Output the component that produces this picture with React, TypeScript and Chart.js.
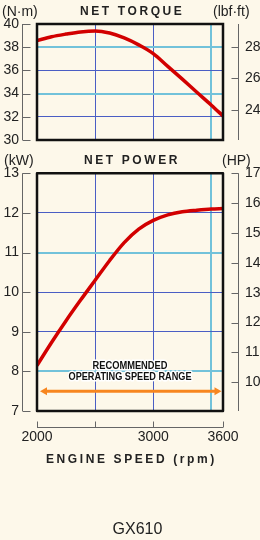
import React, { useEffect, useRef } from "react";
import { Chart, registerables } from "chart.js";
Chart.register(...registerables);

// ---- data ----
const rpm = [2000, 2125, 2250, 2375, 2500, 2625, 2750, 2875, 3000, 3125, 3250, 3375, 3500, 3600];
const torqueNm = [38.57, 38.9, 39.13, 39.32, 39.4, 39.22, 38.8, 38.2, 37.45, 36.35, 35.25, 34.12, 33.0, 32.07];
const powerKw = [8.15, 8.73, 9.28, 9.8, 10.3, 10.8, 11.25, 11.59, 11.81, 11.95, 12.03, 12.07, 12.1, 12.11];

const xGridTicks = [2000, 2500, 3000, 3500, 3600];
const xLabelled = [2000, 3000, 3600];
const xAxisMarks = [2000, 2500, 3000, 3600];
const xLightGrid = [3500];

const torqueTicks = [30, 32, 34, 36, 38, 40];
const torqueLightGrid = [34, 38];
const lbfftTicks = [24, 26, 28];
const lbfftRange = [22.1, 29.45];

const powerTicks = [7, 8, 9, 10, 11, 12, 13];
const powerLightGrid = [8, 11];
const hpTicks = [10, 11, 12, 13, 14, 15, 16, 17];
const hpRange = [9.04, 17];

const rangeRpm = [2000, 3600];
const rangeKw = 7.5;
const rangeText = ["RECOMMENDED", "OPERATING SPEED RANGE"];

// ---- style ----
const BG = "#FDF8EA";
const DARK = "#4A5EC4";
const LIGHT = "#72C2DA";
const RED = "#D20000";
const ORANGE = "#F7861F";
const TEXT = "#222";
const FONT = "'Liberation Sans', Arial, sans-serif";
const CLEAR = "rgba(0,0,0,0)";

const decorPlugin = {
  id: "decor",
  afterDraw(chart: any, _a: any, o: any) {
    const ctx = chart.ctx;
    const ca = chart.chartArea;
    const x = chart.scales.x;
    const y = chart.scales.y;
    const y2 = chart.scales.y2;
    ctx.save();

    if (o.range) {
      const py = y.getPixelForValue(rangeKw);
      const x1 = x.getPixelForValue(rangeRpm[0]) + 3;
      const x2 = x.getPixelForValue(rangeRpm[1]) - 1.5;
      ctx.strokeStyle = ORANGE;
      ctx.fillStyle = ORANGE;
      ctx.lineWidth = 3;
      ctx.beginPath();
      ctx.moveTo(x1 + 4, py);
      ctx.lineTo(x2 - 4, py);
      ctx.stroke();
      ctx.beginPath();
      ctx.moveTo(x1, py);
      ctx.lineTo(x1 + 7, py - 4);
      ctx.lineTo(x1 + 7, py + 4);
      ctx.closePath();
      ctx.fill();
      ctx.beginPath();
      ctx.moveTo(x2, py);
      ctx.lineTo(x2 - 7, py - 4);
      ctx.lineTo(x2 - 7, py + 4);
      ctx.closePath();
      ctx.fill();

      const cx = (ca.left + ca.right) / 2;
      ctx.font = `bold 11px ${FONT}`;
      ctx.textAlign = "center";
      ctx.textBaseline = "middle";
      ctx.lineJoin = "round";
      const rows = [
        { t: rangeText[0], dy: -25, w: 75 },
        { t: rangeText[1], dy: -14, w: 123 },
      ];
      for (const r of rows) {
        ctx.strokeStyle = "#fff";
        ctx.lineWidth = 3;
        ctx.strokeText(r.t, cx, py + r.dy, r.w);
      }
      ctx.fillStyle = "#111";
      for (const r of rows) ctx.fillText(r.t, cx, py + r.dy, r.w);
    }

    ctx.strokeStyle = "#111";
    ctx.lineWidth = 2.5;
    ctx.strokeRect(ca.left, ca.top, ca.right - ca.left, ca.bottom - ca.top);

    ctx.strokeStyle = "#666";
    ctx.lineWidth = 1;
    const lx = o.leftAxisX;
    ctx.beginPath();
    ctx.moveTo(lx, y.getPixelForValue(y.min));
    ctx.lineTo(lx, y.getPixelForValue(y.max));
    for (const v of o.leftTicks) {
      const py = Math.round(y.getPixelForValue(v)) + 0.5;
      ctx.moveTo(lx, py);
      ctx.lineTo(lx + 8, py);
    }
    ctx.stroke();

    const rx = o.rightAxisX;
    ctx.beginPath();
    ctx.moveTo(rx, ca.top);
    ctx.lineTo(rx, ca.bottom);
    for (const v of o.rightTicks) {
      const py = Math.round(y2.getPixelForValue(v)) + 0.5;
      ctx.moveTo(rx, py);
      ctx.lineTo(rx - 7, py);
    }
    ctx.stroke();

    if (o.xAxisOffset) {
      const ay = Math.round(ca.bottom + o.xAxisOffset) + 0.5;
      ctx.beginPath();
      ctx.moveTo(x.getPixelForValue(x.min), ay);
      ctx.lineTo(x.getPixelForValue(x.max), ay);
      for (const v of xAxisMarks) {
        const px = Math.round(x.getPixelForValue(v)) + 0.5;
        ctx.moveTo(px, ay);
        ctx.lineTo(px, ay - 6);
      }
      ctx.stroke();
    }

    ctx.fillStyle = TEXT;
    ctx.textBaseline = "middle";
    ctx.textAlign = "left";
    ctx.font = `bold 12px ${FONT}`;
    (ctx as any).letterSpacing = "2.6px";
    ctx.fillText(o.title, o.titleX, o.titleY);
    if (o.xTitle) ctx.fillText(o.xTitle, o.xTitleX, o.xTitleY);
    (ctx as any).letterSpacing = "0px";
    ctx.font = `14px ${FONT}`;
    ctx.fillText(o.leftUnit, o.leftUnitX, o.titleY);
    ctx.fillText(o.rightUnit, o.rightUnitX, o.titleY);
    ctx.restore();
  },
};

function makeConfig(kind: "torque" | "power"): any {
  const isP = kind === "power";
  const vals = isP ? powerKw : torqueNm;
  const leftTicks = isP ? powerTicks : torqueTicks;
  const lightY = isP ? powerLightGrid : torqueLightGrid;
  const rightTicks = isP ? hpTicks : lbfftTicks;
  const rightRange = isP ? hpRange : lbfftRange;
  const tickFont = { family: FONT, size: 14 };
  return {
    type: "line",
    data: {
      datasets: [
        {
          data: rpm.map((r, i) => ({ x: r, y: vals[i] })),
          borderColor: RED,
          borderWidth: 3.5,
          pointRadius: 0,
          fill: false,
          cubicInterpolationMode: "monotone",
          yAxisID: "y",
        },
      ],
    },
    options: {
      responsive: false,
      animation: false,
      devicePixelRatio: 1,
      layout: { padding: isP ? { top: 23.3, bottom: 69, left: 0, right: 0 } : { top: 24, bottom: 10, left: 0, right: 0 } },
      plugins: {
        legend: { display: false },
        tooltip: { enabled: false },
        decor: {
          title: isP ? "NET POWER" : "NET TORQUE",
          titleX: isP ? 84 : 80,
          titleY: isP ? 11 : 12,
          leftUnit: isP ? "(kW)" : "(N·m)",
          rightUnit: isP ? "(HP)" : "(lbf·ft)",
          leftUnitX: isP ? 4 : 2,
          rightUnitX: isP ? 222 : 213,
          leftAxisX: 22.5,
          rightAxisX: 238.5,
          leftTicks,
          rightTicks,
          range: isP,
          xAxisOffset: isP ? 16 : 0,
          xTitle: isP ? "ENGINE SPEED (rpm)" : "",
          xTitleX: 46,
          xTitleY: 310,
        },
      },
      scales: {
        x: {
          type: "linear",
          min: 2000,
          max: 3600,
          afterBuildTicks: (s: any) => {
            s.ticks = xGridTicks.map((v) => ({ value: v }));
          },
          afterFit: (s: any) => {
            s.height = isP ? 60 : 0;
          },
          border: { display: false },
          grid: {
            drawTicks: false,
            color: (c: any) => {
              const v = c.tick ? c.tick.value : 0;
              if (v === 2000 || v === 3600) return CLEAR;
              return xLightGrid.includes(v) ? LIGHT : DARK;
            },
            lineWidth: (c: any) => (c.tick && xLightGrid.includes(c.tick.value) ? 2 : 1),
          },
          ticks: {
            display: isP,
            autoSkip: false,
            maxRotation: 0,
            padding: 18,
            color: TEXT,
            font: tickFont,
            callback: (v: any) => (xLabelled.includes(v) ? String(v) : ""),
          },
        },
        y: {
          position: "left",
          min: leftTicks[0],
          max: leftTicks[leftTicks.length - 1],
          afterBuildTicks: (s: any) => {
            s.ticks = leftTicks.map((v) => ({ value: v }));
          },
          afterFit: (s: any) => {
            s.width = 37;
          },
          border: { display: false },
          grid: {
            drawTicks: true,
            tickLength: 18,
            tickColor: CLEAR,
            color: (c: any) => {
              const v = c.tick ? c.tick.value : 0;
              if (v === leftTicks[0] || v === leftTicks[leftTicks.length - 1]) return CLEAR;
              return lightY.includes(v) ? LIGHT : DARK;
            },
            lineWidth: (c: any) => (c.tick && lightY.includes(c.tick.value) ? 2 : 1),
          },
          ticks: { autoSkip: false, padding: 0, color: TEXT, font: tickFont },
        },
        y2: {
          position: "right",
          min: rightRange[0],
          max: rightRange[1],
          afterBuildTicks: (s: any) => {
            s.ticks = rightTicks.map((v) => ({ value: v }));
          },
          afterFit: (s: any) => {
            s.width = 37;
          },
          border: { display: false },
          grid: { drawOnChartArea: false, drawTicks: true, tickLength: 22, tickColor: CLEAR },
          ticks: { autoSkip: false, padding: 0, color: TEXT, font: tickFont },
        },
      },
    },
    plugins: [decorPlugin],
  };
}

function ChartCanvas({ kind, top, height }: { kind: "torque" | "power"; top: number; height: number }) {
  const ref = useRef<HTMLCanvasElement | null>(null);
  useEffect(() => {
    if (!ref.current) return;
    const chart = new Chart(ref.current, makeConfig(kind));
    return () => chart.destroy();
  }, [kind]);
  return (
    <canvas
      ref={ref}
      width={260}
      height={height}
      style={{ position: "absolute", left: 0, top, width: 260, height }}
    />
  );
}

export default function App() {
  return (
    <div
      style={{
        position: "absolute",
        left: 0,
        top: 0,
        width: 260,
        height: 540,
        background: BG,
        overflow: "hidden",
      }}
    >
      <ChartCanvas kind="torque" top={0} height={150} />
      <ChartCanvas kind="power" top={150} height={390} />
      <div
        style={{
          position: "absolute",
          left: 0,
          top: 519,
          width: 275,
          textAlign: "center",
          fontFamily: FONT,
          fontSize: 16,
          lineHeight: "20px",
          color: TEXT,
        }}
      >
        GX610
      </div>
    </div>
  );
}
